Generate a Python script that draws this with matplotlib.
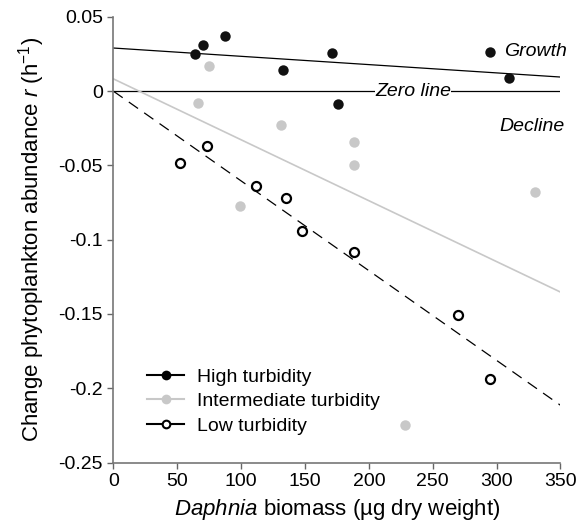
import numpy as np
import matplotlib
matplotlib.use("Agg")
import matplotlib.pyplot as plt

plt.rcParams['font.family'] = ['Liberation Sans', 'DejaVu Sans']
plt.rcParams['mathtext.fontset'] = 'custom'
plt.rcParams['mathtext.rm'] = 'Liberation Sans'
plt.rcParams['mathtext.it'] = 'Liberation Sans:italic'

# Daphnia biomass (x) and r (y)
high_x = [64, 70, 87, 133, 171, 176, 295, 310]
high_y = [0.025, 0.031, 0.0375, 0.0146, 0.0258, -0.0083, 0.0267, 0.0092]

mid_x = [75, 66, 131, 188.5, 188.5, 99, 330.5, 228]
mid_y = [0.017, -0.008, -0.023, -0.034, -0.050, -0.0776, -0.068, -0.225]

low_x = [52, 73.5, 112, 135, 148, 188.5, 270, 295]
low_y = [-0.048, -0.037, -0.064, -0.072, -0.094, -0.108, -0.151, -0.194]

# regression lines (intercept, slope)
high_fit = [0.0291, -0.0000558]
mid_fit = [0.0083, -0.000410]
low_fit = [0.0, -0.000604]

x_ticks = [0, 50, 100, 150, 200, 250, 300, 350]
y_ticks = [0.05, 0, -0.05, -0.1, -0.15, -0.2, -0.25]
y_labels = ['0.05', '0', '-0.05', '-0.1', '-0.15', '-0.2', '-0.25']

GREY = '#c8c8c8'

fig = plt.figure(figsize=(5.88, 5.31), dpi=100)
ax = fig.add_axes([0.193, 0.129, 0.760, 0.839])

xx = np.array([0, 350])
ax.axhline(0, color='black', lw=0.9, zorder=1)
ax.plot(xx, high_fit[0] + high_fit[1] * xx, color='black', lw=0.9, zorder=2)
ax.plot(xx, mid_fit[0] + mid_fit[1] * xx, color=GREY, lw=1.2, zorder=2)
ax.plot(xx, low_fit[0] + low_fit[1] * xx, color='black', lw=0.9,
        dashes=(9, 6), zorder=2)

ax.plot(mid_x, mid_y, 'o', color=GREY, ms=7.5, mec='none', zorder=3)
ax.plot(high_x, high_y, 'o', color='#111111', ms=7.5, mec='none', zorder=4)
ax.plot(low_x, low_y, 'o', mfc='white', mec='black', ms=6.5, mew=1.6, zorder=4)

# legend proxies
ax.plot([], [], '-o', color='black', ms=7, mec='none', label='High turbidity')
ax.plot([], [], '-o', color=GREY, ms=7, mec='none', label='Intermediate turbidity')
ax.plot([], [], '-o', color='black', mfc='white', mec='black', ms=5.5, mew=1.5,
        label='Low turbidity')
handles, labels = ax.get_legend_handles_labels()
ax.legend(handles[-3:], labels[-3:], loc='lower left', bbox_to_anchor=(0.074, 0.062),
          frameon=False, fontsize=14, handlelength=1.95, handletextpad=0.65,
          labelspacing=0.36, borderaxespad=0, borderpad=0)

ax.text(306, 0.0269, 'Growth', fontsize=14, style='italic', va='center', ha='left')
ax.text(353, -0.0235, 'Decline', fontsize=14, style='italic', va='center', ha='right')
ax.text(234.5, 0.0, 'Zero line', fontsize=14, style='italic', va='center', ha='center',
        bbox=dict(facecolor='white', edgecolor='none', pad=0.3))

ax.set_xlim(0, 350)
ax.set_ylim(-0.25, 0.05)
ax.set_xticks(x_ticks)
ax.set_yticks(y_ticks)
ax.set_yticklabels(y_labels)
ax.tick_params(direction='out', length=4, width=1, colors='#666666',
               labelcolor='black', labelsize=14)

for s in ['top', 'right']:
    ax.spines[s].set_visible(False)
for s in ['left', 'bottom']:
    ax.spines[s].set_color('#777777')
    ax.spines[s].set_linewidth(1.2)

ax.set_xlabel(r'$\it{Daphnia}$ biomass (µg dry weight)', fontsize=16, labelpad=5)
ax.set_ylabel(r'Change phytoplankton abundance $\it{r}$ (h$^{-1}$)', fontsize=16, labelpad=8)

fig.savefig('out.png', dpi=100)
